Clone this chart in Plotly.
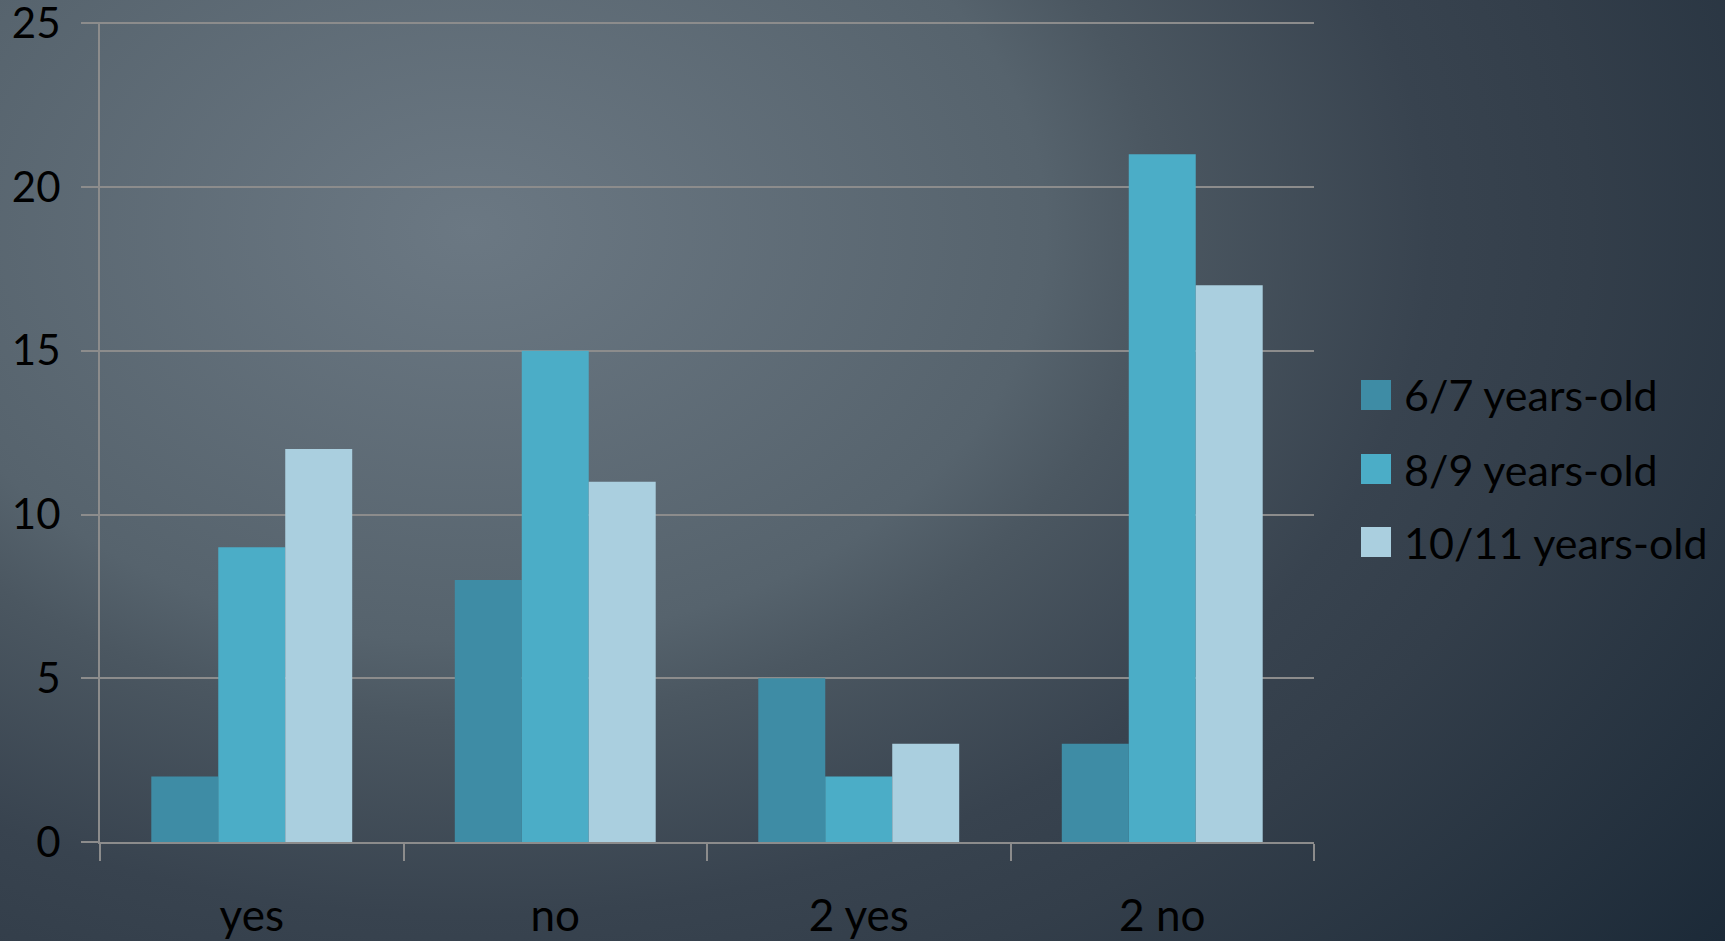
import base64
import plotly.graph_objects as go

categories = ["yes", "no", "2 yes", "2 no"]
series_names = ["6/7 years-old", "8/9 years-old", "10/11 years-old"]
values_6_7 = [2, 8, 5, 3]
values_8_9 = [9, 15, 2, 21]
values_10_11 = [12, 11, 3, 17]
y_ticks = [0, 5, 10, 15, 20, 25]

colors = ["#3E8CA5", "#4BADC7", "#AACFDF"]
all_values = [values_6_7, values_8_9, values_10_11]

W, H = 1725, 941
L, R, T, B = 100, 411, 22, 99
PW, PH = W - L - R, H - T - B

FONT = "Lato"
FS = 44

fig = go.Figure()
for name, vals, col in zip(series_names, all_values, colors):
    fig.add_trace(go.Bar(x=categories, y=vals, name=name, marker=dict(color=col, line=dict(width=0)),
                         showlegend=False))

# background gradient (elliptical radial)
cx, cy = 470, 230
svg = f'''<svg xmlns="http://www.w3.org/2000/svg" width="{W}" height="{H}" viewBox="0 0 {W} {H}" preserveAspectRatio="none">
<defs><radialGradient id="g" cx="{cx}" cy="{cy}" r="1600" gradientUnits="userSpaceOnUse"
 gradientTransform="translate({cx},{cy}) scale(1,0.714) translate({-cx},{-cy})">
<stop offset="0" stop-color="#6B7883"/>
<stop offset="0.36" stop-color="#56636D"/>
<stop offset="0.43" stop-color="#4B5761"/>
<stop offset="0.6" stop-color="#38434F"/>
<stop offset="0.7" stop-color="#333E4A"/>
<stop offset="1" stop-color="#1C2A38"/>
</radialGradient></defs>
<rect x="0" y="0" width="{W}" height="{H}" fill="url(#g)"/></svg>'''
src = "data:image/svg+xml;base64," + base64.b64encode(svg.encode()).decode()
fig.add_layout_image(dict(source=src, xref="paper", yref="paper",
                          x=-L / PW, y=1 + T / PH, sizex=W / PW, sizey=H / PH,
                          sizing="stretch", layer="below", xanchor="left", yanchor="top"))

# legend (swatches + labels)
leg_rows = [395, 469, 542]
for name, col, ly in zip(series_names, colors, leg_rows):
    fig.add_shape(type="rect", xref="paper", yref="paper",
                  x0=(1361 - L) / PW, x1=(1391 - L) / PW,
                  y0=(842 - (ly + 15)) / PH, y1=(842 - (ly - 15)) / PH,
                  fillcolor=col, line=dict(width=0))
    fig.add_annotation(xref="paper", yref="paper", x=(1402 - L) / PW, y=(842 - ly) / PH,
                       text=name, showarrow=False, xanchor="left", yanchor="middle",
                       font=dict(family=FONT, size=43, color="#000000"))

fig.update_layout(
    width=W, height=H,
    margin=dict(l=L, r=R, t=T, b=B),
    paper_bgcolor="#4E5B66",
    plot_bgcolor="rgba(0,0,0,0)",
    barmode="group",
    bargap=0.338,
    bargroupgap=0,
    showlegend=False,
    font=dict(family=FONT, size=FS, color="#000000"),
)
fig.update_xaxes(
    showgrid=False, showline=True, linecolor="#8C8C8C", linewidth=2,
    ticks="outside", tickson="boundaries", ticklen=17, tickwidth=2, tickcolor="#8C8C8C",
    tickfont=dict(family=FONT, size=FS, color="#000000"), ticklabelstandoff=34,
    ticklabeloverflow="allow", automargin=False,
)
fig.update_yaxes(
    range=[0, 25.04], tickvals=y_ticks, showgrid=True, gridcolor="#8C8C8C", gridwidth=2,
    zeroline=False, showline=True, linecolor="#8C8C8C", linewidth=2,
    ticks="outside", ticklen=17, tickwidth=2, tickcolor="#8C8C8C",
    tickfont=dict(family=FONT, size=42, color="#000000"), ticklabelstandoff=12,
    ticklabeloverflow="allow", automargin=False,
)

fig.write_html("out.html", config={"displayModeBar": False},
               post_script="document.body.style.margin='0';document.body.style.overflow='hidden';")
